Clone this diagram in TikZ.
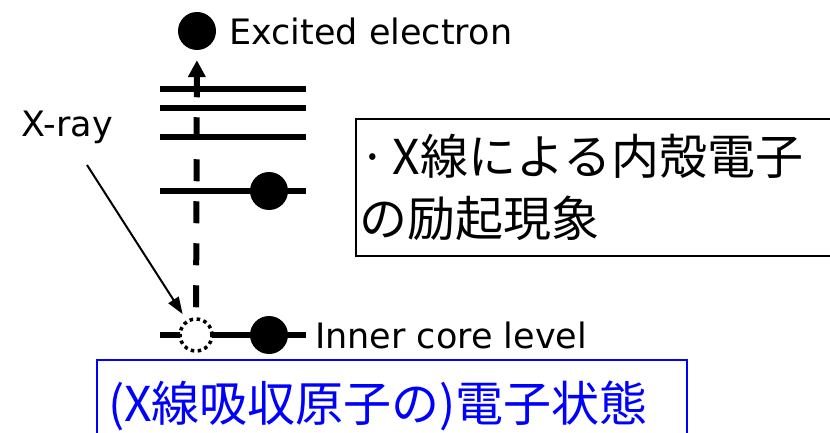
\documentclass[tikz,border=0pt]{standalone}
\usepackage{fontspec}
\setmainfont{Noto Sans CJK JP}
\newfontfamily\latinfont{DejaVu Sans}
\usetikzlibrary{positioning,arrows.meta}
\tikzset{
  level/.style={ % an energy level of the atom
    line width=6pt
  },
  electron/.style={ % a filled electron
    circle, fill=black, minimum size=38pt, inner sep=0pt
  },
  hole/.style={ % the empty place left by the core electron
    circle, draw, line width=3.5pt, dash pattern=on 3.5pt off 3.5pt,
    fill=white, minimum size=32pt, inner sep=0pt
  },
  excite/.style={ % dashed path of the excited electron
    line width=6pt, dash pattern=on 22pt off 20pt,
    -{Triangle[length=17pt,width=17pt]}
  },
  xarrow/.style={ % incoming x-ray
    line width=2pt, -{Triangle[length=17pt,width=12pt]}
  },
  tag/.style={ % english labels
    inner sep=0pt, font=\latinfont\fontsize{35pt}{40pt}\selectfont
  },
  topic/.style={ % black box with the remark
    draw, line width=2pt, anchor=north west, align=left,
    inner xsep=3pt, text width=484pt, minimum height=137pt,
    font=\fontsize{48pt}{62pt}\selectfont
  },
  state/.style={ % blue box with the caption
    draw=blue, text=blue, line width=2pt, anchor=north west, align=left,
    inner xsep=11pt, text width=568pt, minimum height=92pt,
    font=\fontsize{48pt}{55pt}\selectfont
  }
}
\begin{document}
\begin{tikzpicture}[x=1pt, y=-1pt]
  \useasboundingbox (0,0) rectangle (830,433);

  % energy levels
  \foreach \y in {89,108,137,191}
    \draw[level] (160,\y) -- (306,\y);
  \coordinate (core l) at (160,335);
  \coordinate (core r) at (306,335);
  \draw[level] (core l) -- (core r);

  \node[electron] (exc) at (197,31) {};
  \node[electron] (val) at (269,191) {};
  \node[electron] (core) at (269,335) {};
  \node[hole] (hole) at (196,335) {};

  \draw[excite, shorten <=10pt, shorten >=10pt] (hole) -- (exc);

  \node[tag, right=13pt of exc] (exc_text) {Excited electron};
  \node[tag, right=9pt of core r] (core_text) {Inner core level};
  \node[tag, anchor=base] (xray) at (67,137) {X-ray};
  \draw[xarrow, shorten >=7pt] ([xshift=20pt,yshift=-28pt]xray.base) -- (hole);

  \node[topic] (remark) at (355,118) {·\hspace{7pt}X線による内殻電子\\の励起現象};
  \node[state] (caption) at (96,359) {(X線吸収原子の)電子状態};
\end{tikzpicture}
\end{document}
